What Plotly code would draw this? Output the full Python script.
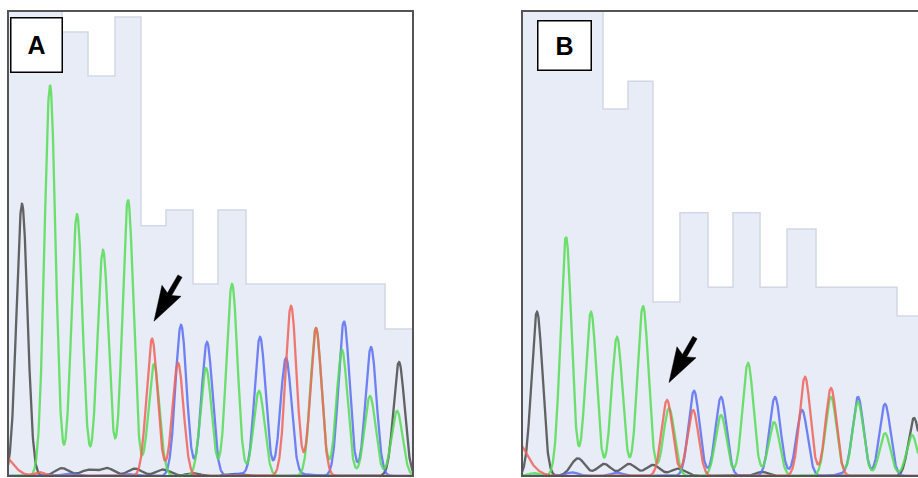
import numpy as np
import plotly.graph_objects as go

# ---------------- data (scan units, signal units 0-1000) ----------------
# Panel A quality bars: step edges and values
a_q_edges = [0, 54, 80, 107, 133, 158, 185, 210, 238, 377, 405]
a_q_vals = [1010, 955, 860, 987, 538, 572, 413, 572, 413, 316]
# Panel A peaks: (position, height, width)
a_green = [(42, 841, 5.5), (69, 563, 5.5), (95, 486, 5.5), (120, 594, 5.5), (146, 241, 5.5),
           (198, 232, 5.5), (224, 413, 5.5), (251, 183, 5.5), (308, 318, 5.5), (334, 271, 5.5),
           (362, 172, 5.5), (389, 140, 5.5)]
a_red = [(-10, 55, 12), (32, 8, 5), (144, 295, 5.5), (170, 243, 5.5), (283, 366, 5.5), (308, 318, 5.5)]
a_blue = [(173, 325, 5.5), (199, 288, 5.5), (252, 299, 5.5), (278, 254, 5.5), (336, 333, 5.5),
          (363, 277, 5.5), (60, 5, 6), (120, 4, 6), (230, 5, 6), (300, 4, 6)]
a_black = [(14, 585, 5.5), (54, 17, 7), (80, 13, 7), (99, 17, 7), (127, 16, 7), (155, 14, 7),
           (185, 6, 7), (225, 5, 7), (391, 245, 5.5)]

# Panel B quality bars
b_q_edges = [0, 81, 106, 131, 158, 186, 211, 238, 265, 294, 375, 396]
b_q_vals = [1010, 789, 849, 374, 566, 406, 566, 406, 531, 406, 344]
# Panel B peaks
b_green = [(44, 514, 5.5), (69, 353, 5.5), (95, 299, 5.5), (121, 366, 5.5), (147, 146, 5.5),
           (199, 131, 5.5), (226, 243, 5.5), (252, 116, 5.5), (309, 170, 5.5), (336, 159, 5.5),
           (363, 92, 5.5), (390, 88, 5.5), (12, 6, 6)]
b_red = [(-12, 94, 14), (145, 163, 5.5), (171, 142, 5.5), (283, 213, 5.5), (309, 189, 5.5)]
b_blue = [(172, 183, 5.5), (199, 166, 5.5), (253, 170, 5.5), (280, 142, 5.5), (336, 170, 5.5),
          (363, 155, 5.5), (50, 8, 6), (95, 7, 6), (200, 4, 6), (320, 4, 6)]
b_black = [(15, 353, 5.5), (56, 38, 7), (82, 26, 7), (107, 26, 7), (131, 24, 7), (156, 16, 7),
           (240, 9, 6), (392, 125, 5.5)]

panel_labels = ["A", "B"]

# ---------------- style ----------------
COL = {"G": "#55dd55", "R": "#f0645a", "B": "#5a6ef2", "K": "#4a4a4a"}
Q_FILL = "#e8ecf6"
Q_LINE = "#d2d7e5"
FRAME = "#555555"

W, H = 918, 478
AX_L, AX_R = 8, 413
BX_L, BX_R = 522, 918
Y_T, Y_B = 11, 476


def trace_curve(peaks, xs):
    y = np.zeros_like(xs)
    for p, h, s in peaks:
        y += h * np.exp(-((xs - p) ** 2) / (2 * s * s))
    return y


fig = go.Figure()


def add_panel(xa, ya, q_edges, q_vals, chans, xmax):
    xs = np.linspace(0, xmax, 1600)
    qx = list(q_edges)
    qy = list(q_vals) + [q_vals[-1]]
    fig.add_trace(go.Scatter(x=qx, y=qy, mode="lines", line=dict(shape="hv", color=Q_LINE, width=1.5),
                             fill="tozeroy", fillcolor=Q_FILL, xaxis=xa, yaxis=ya, hoverinfo="skip"))
    for key, peaks in chans:
        fig.add_trace(go.Scatter(x=xs, y=trace_curve(peaks, xs), mode="lines",
                                 line=dict(color=COL[key], width=2.3), opacity=0.85,
                                 xaxis=xa, yaxis=ya))


add_panel("x", "y", a_q_edges, a_q_vals,
          [("K", a_black), ("B", a_blue), ("G", a_green), ("R", a_red)], AX_R - AX_L)
add_panel("x2", "y2", b_q_edges, b_q_vals,
          [("K", b_black), ("B", b_blue), ("G", b_green), ("R", b_red)], BX_R - BX_L)

ydom = [(H - Y_B) / H, (H - Y_T) / H]
axis_common = dict(visible=False, showgrid=False, zeroline=False, fixedrange=True)
fig.update_layout(
    width=W, height=H, autosize=False,
    margin=dict(l=0, r=0, t=0, b=0),
    paper_bgcolor="white", plot_bgcolor="white",
    showlegend=False,
    xaxis=dict(domain=[AX_L / W, AX_R / W], range=[0, AX_R - AX_L], **axis_common),
    yaxis=dict(domain=ydom, range=[0, 1000], **axis_common),
    xaxis2=dict(domain=[BX_L / W, BX_R / W], range=[0, BX_R - BX_L], **axis_common),
    yaxis2=dict(domain=ydom, range=[0, 1000], anchor="x2", **axis_common),
)

# frames
fig.add_shape(type="rect", xref="x domain", yref="y domain", x0=0, x1=1, y0=0, y1=1,
              line=dict(color=FRAME, width=2), layer="above")
fig.add_shape(type="path", xref="paper", yref="paper",
              path=f"M 1,{ydom[1]} L {BX_L / W},{ydom[1]} L {BX_L / W},{ydom[0]} L 1,{ydom[0]}",
              line=dict(color=FRAME, width=2), layer="above")


# arrows (filled polygons, pixel-sized, anchored just above the mutated peak)
def arrow_path(dx=26.0, dy=45.0, head_len=35.0, head_half=11.0, shaft_half=2.4, notch=4.0):
    L = np.hypot(dx, dy)
    ux, uy = dx / L, dy / L
    px, py = -uy, ux
    bx, by = ux * head_len, uy * head_len
    nx, ny = ux * (head_len - notch), uy * (head_len - notch)
    pts = [(0, 0),
           (bx + head_half * px, by + head_half * py),
           (nx + shaft_half * px, ny + shaft_half * py),
           (dx + shaft_half * px, dy + shaft_half * py),
           (dx - shaft_half * px, dy - shaft_half * py),
           (nx - shaft_half * px, ny - shaft_half * py),
           (bx - head_half * px, by - head_half * py)]
    return "M " + " L ".join(f"{x:.2f},{y:.2f}" for x, y in pts) + " Z"


for xa, ya, peak in (("x", "y", a_red[2]), ("x2", "y2", b_red[1])):
    fig.add_shape(type="path", xref=xa, yref=ya, xsizemode="pixel", ysizemode="pixel",
                  xanchor=peak[0] + 2, yanchor=peak[1] + 38, path=arrow_path(),
                  fillcolor="black", line=dict(color="black", width=0.5), layer="above")

# panel labels
for txt, cx, cy, bw, bh in ((panel_labels[0], 36, 44.5, 50, 53), (panel_labels[1], 564, 46, 52, 48)):
    fig.add_annotation(x=cx / W, y=1 - cy / H, xref="paper", yref="paper", text=f"<b>{txt}</b>",
                       showarrow=False, xanchor="center", yanchor="middle", width=bw, height=bh,
                       bgcolor="white", bordercolor="black", borderwidth=1.5, borderpad=0,
                       font=dict(family="Liberation Sans, Arial, sans-serif", size=25, color="black"))

fig.write_html("out.html", config={"displayModeBar": False},
               post_script="document.body.style.margin='0';document.body.style.overflow='hidden';")
